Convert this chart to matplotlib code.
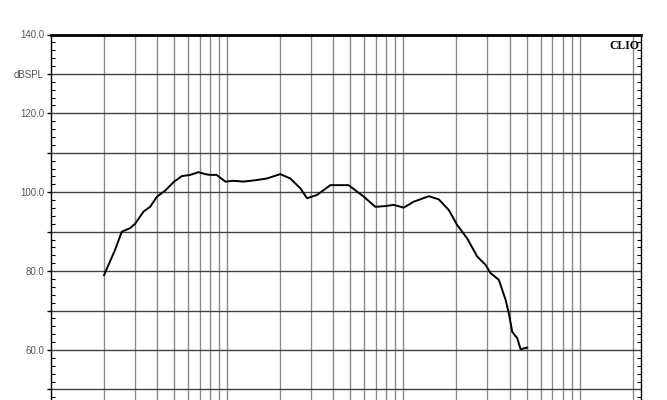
import matplotlib
matplotlib.use("Agg")
import matplotlib.pyplot as plt
from matplotlib.ticker import FixedLocator, FixedFormatter, NullFormatter

# Frequency response data (Hz, dB SPL)
freq_hz = [20.0, 23.1, 25.2, 28.1, 30.0, 33.5, 36.5, 40.0, 44.4, 50.0, 55.3, 61.7,
           68.7, 75.0, 80.0, 87.0, 97.6, 108.6, 123.8, 147.5, 168.1, 200.0, 228.0,
           260.0, 283.7, 323.0, 384.6, 428.7, 488.6, 595.0, 693.0, 790.0, 881.0,
           1004.0, 1144.0, 1393.0, 1587.0, 1809.0, 2018.0, 2301.0, 2624.0, 2924.0,
           3121.0, 3480.0, 3802.0, 3965.0, 4146.0, 4425.0, 4624.0, 5044.0]
spl_db = [79.0, 85.4, 90.0, 90.9, 92.0, 95.1, 96.3, 98.9, 100.4, 102.7, 104.1, 104.4,
          105.1, 104.6, 104.4, 104.4, 102.7, 102.9, 102.7, 103.1, 103.5, 104.6, 103.5,
          101.0, 98.5, 99.3, 101.8, 101.8, 101.8, 98.9, 96.3, 96.5, 96.8,
          96.1, 97.6, 99.0, 98.2, 95.5, 91.7, 88.3, 83.7, 81.6,
          79.5, 77.8, 72.7, 69.3, 64.6, 63.0, 60.2, 60.6]

x_grid_hz = [20, 30, 40, 50, 60, 70, 80, 90,
             100, 200, 300, 400, 500, 600, 700, 800, 900,
             1000, 2000, 3000, 4000, 5000, 6000, 7000, 8000, 9000,
             10000, 20000]
y_major = [50, 60, 70, 80, 90, 100, 110, 120, 130, 140]
y_labels = ['', '60.0', '', '80.0', '', '100.0', '', '120.0', 'dBSPL', '140.0']
y_minor = list(range(40, 141, 2))

W, H = 667, 400
fig = plt.figure(figsize=(W / 100, H / 100), dpi=100)
left, right, top = 51, 641, 34.5
px_per_db = 3.944
bottom_px = top + 100 * px_per_db
ax = fig.add_axes([left / W, (H - bottom_px) / H, (right - left) / W, (bottom_px - top) / H])

ax.set_xscale('log')
ax.set_xlim(10, 22300)
ax.set_ylim(40, 140)

ax.xaxis.set_major_locator(FixedLocator(x_grid_hz))
ax.xaxis.set_major_formatter(NullFormatter())
ax.xaxis.set_minor_locator(FixedLocator([]))
ax.tick_params(axis='x', which='both', length=0)

ax.yaxis.set_major_locator(FixedLocator(y_major))
ax.yaxis.set_major_formatter(FixedFormatter(y_labels))
ax.yaxis.set_minor_locator(FixedLocator(y_minor))
ax.tick_params(axis='y', which='major', direction='out', length=3, width=1,
               labelsize=7, labelcolor='#555555', pad=2, color='black')
ax.tick_params(axis='y', which='minor', direction='in', length=3, width=0.8,
               left=True, right=True, color='black')
for lab in ax.get_yticklabels():
    lab.set_fontfamily(['Liberation Sans', 'DejaVu Sans'])

ax.grid(axis='x', which='major', color='#8a8a8a', linewidth=1.0)
ax.grid(axis='y', which='major', color='#404040', linewidth=1.0)
ax.set_axisbelow(True)

for side in ['left', 'right', 'bottom']:
    ax.spines[side].set_linewidth(1.0)
    ax.spines[side].set_color('black')
ax.spines['top'].set_linewidth(2.0)

ax.plot(freq_hz, spl_db, color='black', linewidth=1.4, zorder=3)

ax.text(0.998, 0.985, 'CLIO', transform=ax.transAxes, ha='right', va='top',
        fontsize=8.5, fontweight='bold', family=['Liberation Serif', 'DejaVu Serif'])

fig.savefig('out.png', dpi=100)
